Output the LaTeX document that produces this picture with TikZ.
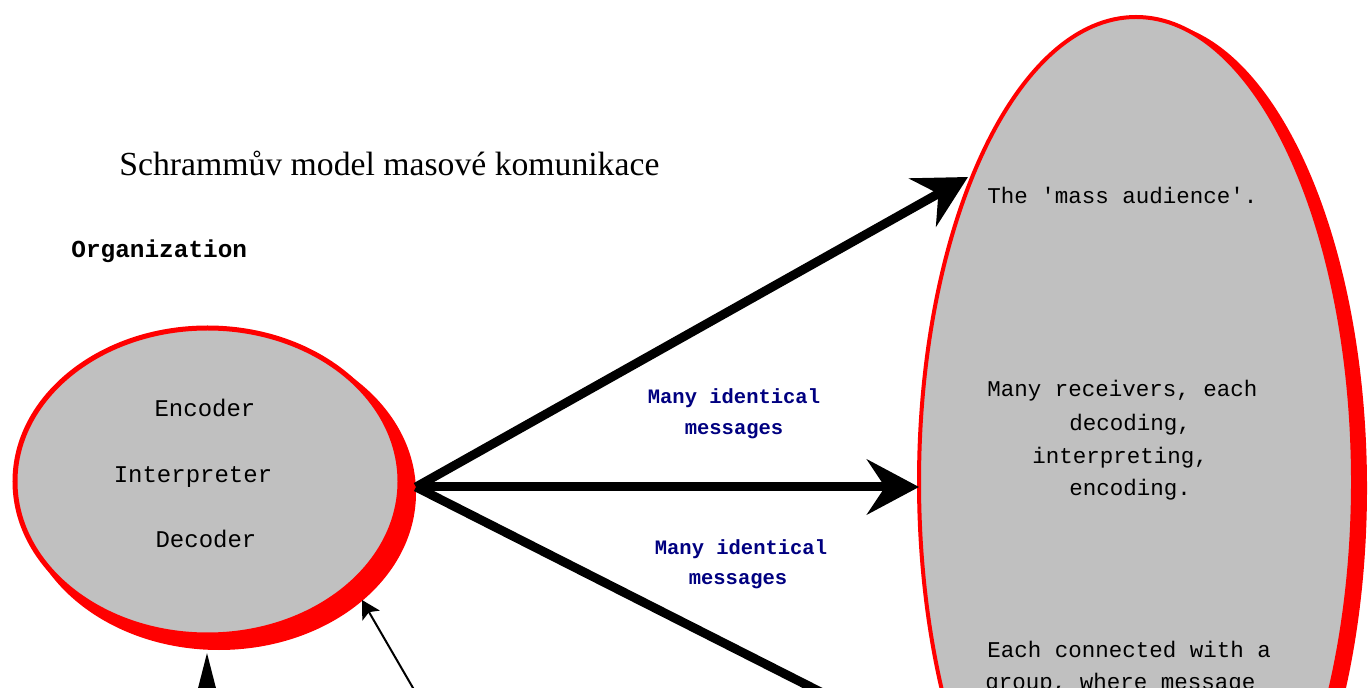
\documentclass[tikz,border=0pt]{standalone}
\usepackage{fontspec}
\setmainfont{Liberation Serif}
\newfontfamily\monofont{Liberation Mono}
\usetikzlibrary{arrows.meta,shapes.geometric}
\definecolor{fillgray}{HTML}{C0C0C0}
\definecolor{ringred}{HTML}{FF0000}
\definecolor{msgblue}{HTML}{000080}
\begin{document}
\begin{tikzpicture}[x=0.5pt,y=-0.5pt,
  shade/.style={ellipse, fill=ringred, inner sep=0pt, outer sep=0pt},
  blob/.style={ellipse, fill=fillgray, draw=ringred, inner sep=0pt, outer sep=0pt},
  roletext/.style={font=\monofont\fontsize{12}{14}\selectfont, inner sep=0pt, anchor=base},
  audtext/.style={font=\monofont\fontsize{11.25}{13}\selectfont, inner sep=0pt},
  msgtext/.style={font=\monofont\bfseries\fontsize{10.25}{12}\selectfont, text=msgblue, inner sep=0pt, anchor=base},
  bigarrow/.style={line width=4.5pt, -{Stealth[length=26pt, width=27.5pt, inset=9pt]}},
  thinarrow/.style={line width=1pt, -{Stealth[length=9pt, width=10pt, inset=2pt]}},
  uparrow/.style={line width=1pt, -{Triangle[length=24pt, width=12pt]}}]
\useasboundingbox (0,0) rectangle (1369,688);
\fill[white] (0,0) rectangle (1369,688);
\begin{scope}
\clip (0,0) rectangle (1369,688);

% the organization: red ring, heavier towards the lower right
\node[shade, minimum width=197pt, minimum height=157pt] (orgshade) at (219,493) {};
\node[blob, line width=2.5pt, minimum width=192.5pt, minimum height=153.5pt] (org) at (207.5,481.5) {};

% the mass audience
\node[shade, minimum width=219pt, minimum height=467pt] (audshade) at (1148,488) {};
\node[blob, line width=2pt, minimum width=217pt, minimum height=465pt] (aud) at (1136,482) {};

% message arrows fanning out from the organization
\coordinate (hub) at (416,487);
\coordinate (topTip) at (968,177);
\coordinate (lowEnd) at (1010,788);
\draw[bigarrow] (hub) -- (topTip);
\draw[bigarrow] (hub) -- (hub -| aud.west);
\draw[bigarrow] (hub) -- (lowEnd);

% feedback arrows coming in from below
\coordinate (upStart) at (207,760);
\coordinate (upTip) at (207,653);
\draw[uparrow] (upStart) -- (upTip);
\coordinate (fbStart) at (420,700);
\coordinate (fbTip) at (362,600);
\draw[thinarrow] (fbStart) -- (fbTip);

% headings
\node[font=\fontsize{16.85}{20}\selectfont, inner sep=0pt, anchor=base west] (title) at (119,176) {Schrammův model masové komunikace};
\node[font=\monofont\bfseries\fontsize{12.2}{14}\selectfont, inner sep=0pt, anchor=base west] (orglabel) at (71,258) {Organization};

% roles inside the organization
\node[roletext] (enc) at (205,417) {Encoder};
\node[roletext] (intp) at (193,483) {Interpreter};
\node[roletext] (dec) at (206,548) {Decoder};

% message labels
\node[msgtext] (msgA1) at (734,404) {Many identical};
\node[msgtext] (msgA2) at (734,435) {messages};
\node[msgtext] (msgB1) at (741,555) {Many identical};
\node[msgtext] (msgB2) at (738,584) {messages};

% audience descriptions
\node[audtext, anchor=base west] (aud1) at (987,204) {The 'mass audience'.};
\node[audtext, anchor=base west] (aud2) at (987,397) {Many receivers, each};
\node[audtext, anchor=base] (aud3) at (1130,431) {decoding,};
\node[audtext, anchor=base] (aud4) at (1120,464) {interpreting,};
\node[audtext, anchor=base] (aud5) at (1130,496) {encoding.};
\node[audtext, anchor=base west] (aud6) at (987,657) {Each connected with a};
\node[audtext, anchor=base west] (aud7) at (985,689) {group, where message};
\end{scope}
\end{tikzpicture}
\end{document}
